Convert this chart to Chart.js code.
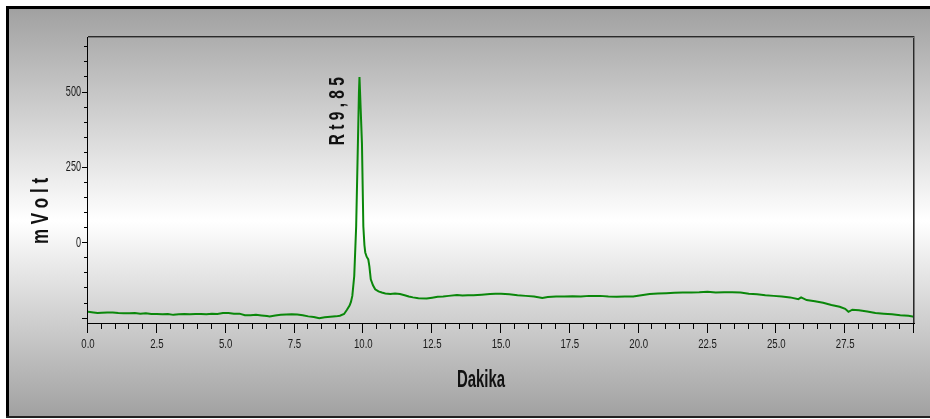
<!DOCTYPE html>
<html>
<head>
<meta charset="utf-8">
<script src="https://cdn.jsdelivr.net/npm/chart.js@4.4.1/dist/chart.umd.min.js"></script>
<style>
  html, body { margin: 0; padding: 0; background: #fff; }
  #box { width: 930px; height: 419px; position: relative; }
</style>
</head>
<body>
<div id="box"><canvas id="chrom"></canvas></div>
<script>
// retention time (min)
const minutes = [
    0.0, 0.2, 0.35, 0.5, 0.7, 0.9, 1.1, 1.3, 1.5, 1.7, 1.9, 2.1, 2.3, 2.5, 2.7, 2.9,
    3.1, 3.3, 3.5, 3.7, 3.9, 4.1, 4.3, 4.5, 4.7, 4.9, 5.1, 5.3, 5.5, 5.7, 5.9,
    6.1, 6.3, 6.5, 6.6, 6.8, 7.0, 7.2, 7.4, 7.6, 7.8, 8.0, 8.2, 8.4, 8.6, 8.8,
    9.0, 9.15, 9.3, 9.4, 9.5, 9.55, 9.6, 9.67, 9.74, 9.79, 9.84,
    9.86, 9.95, 10.0, 10.04, 10.07, 10.12, 10.18, 10.22, 10.27,
    10.35, 10.43, 10.55, 10.67, 10.8, 10.98, 11.15, 11.33, 11.5, 11.65, 11.8,
    12.0, 12.3, 12.5, 12.7, 12.9, 13.1, 13.4, 13.6, 13.8, 14.0, 14.3, 14.6, 14.8,
    15.0, 15.3, 15.6, 15.9, 16.2, 16.5, 16.7, 17.0, 17.3, 17.6, 17.9, 18.2, 18.6,
    18.9, 19.2, 19.5, 19.8, 20.1, 20.4, 20.7, 21.0, 21.3, 21.6, 21.9, 22.2, 22.5,
    22.8, 23.1, 23.4, 23.7, 24.0, 24.3, 24.6, 24.9, 25.2, 25.5, 25.8, 25.9, 26.1,
    26.4, 26.7, 27.0, 27.3, 27.5, 27.62, 27.76, 28.0, 28.3, 28.6, 28.9, 29.2,
    29.5, 29.8, 30.0
];
// detector signal (mV)
const mvolt = [
    -231, -233, -235, -234, -233, -233, -235, -236, -236, -235, -237, -236, -238, -238, -239, -238,
    -241, -239, -238, -239, -238, -238, -239, -237, -238, -235, -235, -237, -237, -242, -242,
    -241, -243, -245, -246, -243, -241, -240, -239, -240, -242, -246, -248, -252, -249, -247,
    -246, -244, -238, -225, -210, -198, -178, -112, 53, 273, 494,
    548, 328, 53, -10, -34, -48, -57, -80, -123,
    -143, -156, -163, -167, -170, -172, -170, -172, -176, -180, -183,
    -186, -187, -184, -181, -180, -178, -175, -177, -176, -176, -174, -172, -171,
    -171, -173, -176, -178, -180, -185, -182, -180, -180, -179, -180, -178, -178,
    -180, -181, -180, -180, -176, -172, -170, -169, -168, -167, -167, -166, -164,
    -167, -166, -166, -167, -171, -173, -176, -178, -180, -183, -189, -183, -192,
    -196, -201, -208, -214, -221, -231, -224, -226, -230, -235, -237, -239,
    -242, -244, -247
];

const xLabelled = [0, 2.5, 5, 7.5, 10, 12.5, 15, 17.5, 20, 22.5, 25, 27.5];
const yLabelled = [0, 250, 500];
const peakTime = 9.85;
const peakLabel = "R t 9 , 8 5";
const yTitle = "m V o l t";
const xTitle = "Dakika";

const points = minutes.map((t, i) => ({x: t, y: mvolt[i]}));

const sans = "'Liberation Sans', Arial, sans-serif";

// text with separate horizontal / vertical glyph scaling
function drawText(ctx, txt, x, y, rot, font, sx, sy, align, baseline, color) {
    ctx.save();
    ctx.translate(x, y);
    ctx.rotate(rot);
    ctx.scale(sx, sy);
    ctx.font = font;
    ctx.fillStyle = color || "#111";
    ctx.textAlign = align;
    ctx.textBaseline = baseline;
    ctx.fillText(txt, 0, 0);
    ctx.restore();
}

const frame = {
    id: "frame",
    beforeDraw(chart) {
        const {ctx, width} = chart;
        ctx.save();
        ctx.fillStyle = "#fff";
        ctx.fillRect(0, 0, width, chart.height);
        const g = ctx.createLinearGradient(0, 9, 0, 416);
        g.addColorStop(0, "#a1a1a1");
        g.addColorStop(0.52, "#ffffff");
        g.addColorStop(1, "#a1a1a1");
        ctx.fillStyle = g;
        ctx.fillRect(6, 6, width - 6, 411);
        ctx.fillStyle = "#000";
        ctx.fillRect(6, 6, width - 6, 3);
        ctx.fillRect(6, 6, 3, 411);
        ctx.fillStyle = "#222";
        ctx.fillRect(6, 416, width - 6, 2);
        ctx.restore();
    },
    afterDraw(chart) {
        const {ctx, chartArea: a, scales: {x, y}} = chart;
        ctx.save();
        // plot box: dark top/right edges, black axes
        ctx.fillStyle = "#2a2a2a";
        ctx.fillRect(a.left, a.top - 1, a.right - a.left + 1, 1);
        ctx.fillRect(a.right - 1, a.top - 1, 1, a.bottom - a.top + 1);
        ctx.fillStyle = "#777";
        ctx.fillRect(a.left, a.top, a.right - a.left, 1);
        ctx.fillRect(a.right, a.top - 1, 1, a.bottom - a.top + 1);
        ctx.fillStyle = "#000";
        ctx.fillRect(a.left - 1, a.top, 1, a.bottom - a.top + 1);
        ctx.fillRect(a.left - 1, a.bottom, a.right - a.left + 2, 1);

        // minor + major tick marks
        for (let v = -250; v <= 650; v += 50) {
            const py = Math.round(y.getPixelForValue(v));
            const len = v % 250 === 0 ? 5 : 3;
            ctx.fillRect(a.left - 1 - len, py, len, 1);
        }
        for (let i = 0; i <= 60; i++) {
            const px = Math.round(x.getPixelForValue(i * 0.5)) - 1;
            const len = i % 5 === 0 ? 9 : 5;
            ctx.fillRect(px, a.bottom + 1, 1, len);
        }

        // narrow tick labels
        y.ticks.forEach((t) => {
            drawText(ctx, String(t.value), a.left - 7, y.getPixelForValue(t.value) + 0.5, 0,
                "13px " + sans, 0.7, 1.1, "right", "middle", "#1a1a1a");
        });
        x.ticks.forEach((t) => {
            drawText(ctx, t.value.toFixed(1), x.getPixelForValue(t.value), 344.5, 0,
                "13px " + sans, 0.74, 1.02, "center", "middle", "#1a1a1a");
        });

        // titles and peak label
        drawText(ctx, yTitle, 42, 211, -Math.PI / 2,
            "bold 17px " + sans, 1, 1.38, "center", "middle");
        drawText(ctx, xTitle, 481, 386.5, 0,
            "bold 18px " + sans, 0.83, 1.37, "center", "alphabetic");
        drawText(ctx, peakLabel, x.getPixelForValue(peakTime) - 21, y.getPixelForValue(322),
            -Math.PI / 2, "bold 15.5px " + sans, 1, 1.4, "left", "middle");
        ctx.restore();
    }
};

new Chart(document.getElementById("chrom"), {
    type: "line",
    data: {
        datasets: [{
            data: points,
            borderColor: "#0a870a",
            borderWidth: 2,
            pointRadius: 0,
            tension: 0,
            fill: false
        }]
    },
    options: {
        responsive: true,
        maintainAspectRatio: false,
        animation: false,
        events: [],
        layout: {padding: {top: 37, right: 16, left: 0, bottom: 0}},
        plugins: {legend: {display: false}, tooltip: {enabled: false}},
        scales: {
            x: {
                type: "linear",
                min: 0,
                max: 30,
                grid: {display: false, drawTicks: false},
                border: {display: false},
                ticks: {display: false},
                afterBuildTicks: (s) => { s.ticks = xLabelled.map((v) => ({value: v})); },
                afterFit: (s) => { s.height = 96; }
            },
            y: {
                min: -268,
                max: 681,
                grid: {display: false, drawTicks: false},
                border: {display: false},
                ticks: {display: false},
                afterBuildTicks: (s) => { s.ticks = yLabelled.map((v) => ({value: v})); },
                afterFit: (s) => { s.width = 88; }
            }
        }
    },
    plugins: [frame]
});
</script>
</body>
</html>
